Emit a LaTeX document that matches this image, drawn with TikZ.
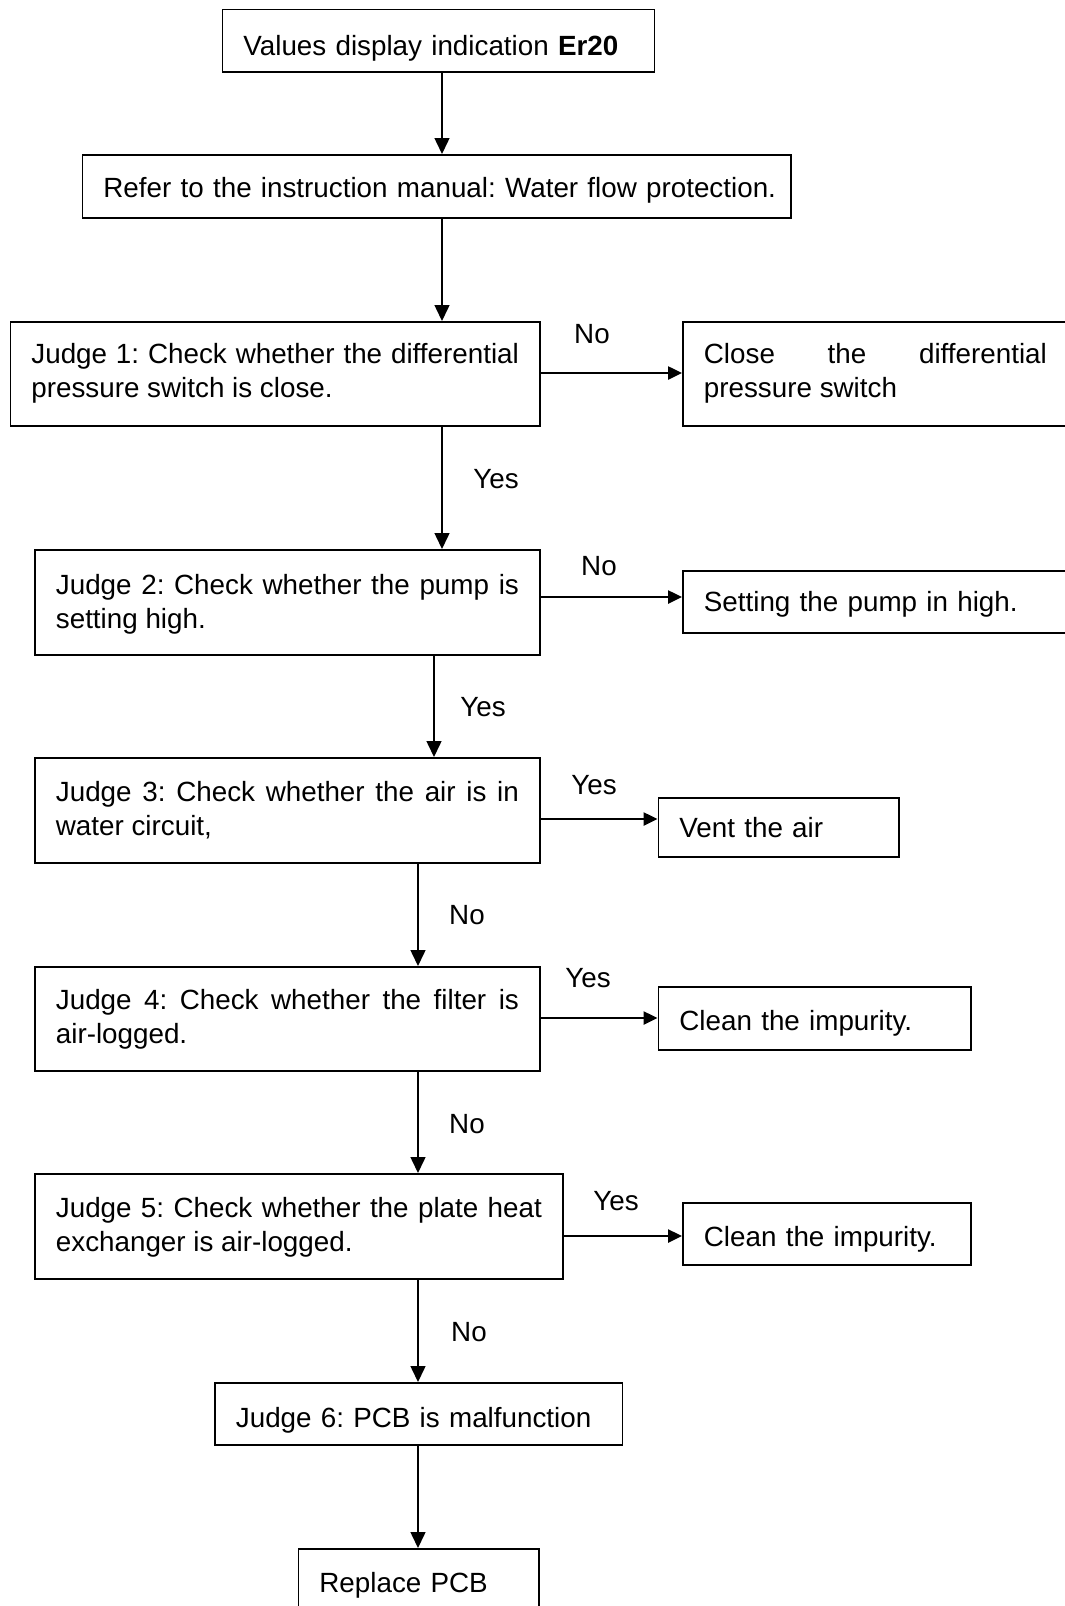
\documentclass[tikz,border=0pt]{standalone}
\usepackage{fontspec}
\setmainfont{Liberation Sans}
\usetikzlibrary{arrows.meta}
\hyphenpenalty=10000
\exhyphenpenalty=10000
\tolerance=9999
\frenchspacing
\begin{document}
\begin{tikzpicture}[x=1pt,y=-1pt,
  box/.style={draw,line width=1.8pt,anchor=north west,inner xsep=21pt,inner ysep=0pt,
    font=\fontsize{27.8}{33.3}\selectfont\frenchspacing,align=left},
  jbox/.style={box,align=justify},
  down/.style={-{Triangle[length=16pt,width=15pt]},line width=1.5pt},
  side/.style={-{Triangle[length=14pt,width=13pt]},line width=2.5pt},
  lab/.style={anchor=base,inner sep=0pt,font=\fontsize{27.8}{33.3}\selectfont}]
\useasboundingbox (0,0) rectangle (1065,1606);
\clip (0,0) rectangle (1065,1606);

\node[box,text width=390pt,text height=46.5pt,text depth=16pt] (A) at (221.5,8.5) {\mbox{Values display indication \textbf{Er20}}};
\node[box,text width=666.5pt,text height=43pt,text depth=20pt] (B) at (81.5,154) {\mbox{Refer to the instruction manual: Water flow protection.}};
\node[jbox,text width=487.5pt,text height=42pt,text depth=62pt] (J1) at (9.5,321) {Judge 1: Check whether the differential pressure switch is close.};
\node[jbox,text width=343pt,text height=42pt,text depth=62pt] (C1) at (682,321) {Close the differential pressure switch};
\node[jbox,text width=463pt,text height=45pt,text depth=60pt] (J2) at (34,549) {Judge 2: Check whether the pump is setting high.};
\node[box,text width=343pt,text height=41pt,text depth=21pt] (C2) at (682,570) {\mbox{Setting the pump in high.}};
\node[jbox,text width=463pt,text height=44pt,text depth=61pt] (J3) at (34,757) {Judge 3: Check whether the air is in water circuit,};
\node[box,text width=198.5pt,text height=40pt,text depth=19pt] (C3) at (657.5,797) {\mbox{Vent the air}};
\node[jbox,text width=463pt,text height=43pt,text depth=61pt] (J4) at (34,966) {Judge 4: Check whether the filter is air-logged.};
\node[box,text width=270.5pt,text height=44pt,text depth=19pt] (C4) at (657.5,986) {\mbox{Clean the impurity.}};
\node[jbox,text width=486pt,text height=44pt,text depth=61pt] (J5) at (34,1173) {Judge 5: Check whether the plate heat exchanger is air-logged.};
\node[box,text width=246pt,text height=44pt,text depth=18pt] (C5) at (682,1202) {\mbox{Clean the impurity.}};
\node[box,text width=365.5pt,text height=45pt,text depth=17pt] (J6) at (214,1382) {\mbox{Judge 6: PCB is malfunction}};
\node[box,text width=198.5pt,text height=44pt,text depth=28pt] (R) at (297.5,1548) {\mbox{Replace PCB}};

\coordinate (x1) at (442,0);
\coordinate (x2) at (434,0);
\coordinate (x3) at (418,0);
\coordinate (y1) at (0,373);
\coordinate (y2) at (0,597);
\coordinate (y3) at (0,819);
\coordinate (y4) at (0,1018);
\coordinate (y5) at (0,1236);

\draw[down] (A.south -| x1) -- (B.north -| x1);
\draw[down] (B.south -| x1) -- (J1.north -| x1);
\draw[down] (J1.south -| x1) -- (J2.north -| x1);
\draw[down] (J2.south -| x2) -- (J3.north -| x2);
\draw[down] (J3.south -| x3) -- (J4.north -| x3);
\draw[down] (J4.south -| x3) -- (J5.north -| x3);
\draw[down] (J5.south -| x3) -- (J6.north -| x3);
\draw[down] (J6.south -| x3) -- (R.north -| x3);

\draw[side] (J1.east |- y1) -- (C1.west |- y1);
\draw[side] (J2.east |- y2) -- (C2.west |- y2);
\draw[side] (J3.east |- y3) -- (C3.west |- y3);
\draw[side] (J4.east |- y4) -- (C4.west |- y4);
\draw[side] (J5.east |- y5) -- (C5.west |- y5);

\node[lab] (l1) at (592,343) {No};
\node[lab] (l2) at (496,488) {Yes};
\node[lab] (l3) at (599,575) {No};
\node[lab] (l4) at (483,716) {Yes};
\node[lab] (l5) at (594,794) {Yes};
\node[lab] (l6) at (467,924) {No};
\node[lab] (l7) at (588,987) {Yes};
\node[lab] (l8) at (467,1133) {No};
\node[lab] (l9) at (616,1210) {Yes};
\node[lab] (l10) at (469,1341) {No};
\end{tikzpicture}
\end{document}
